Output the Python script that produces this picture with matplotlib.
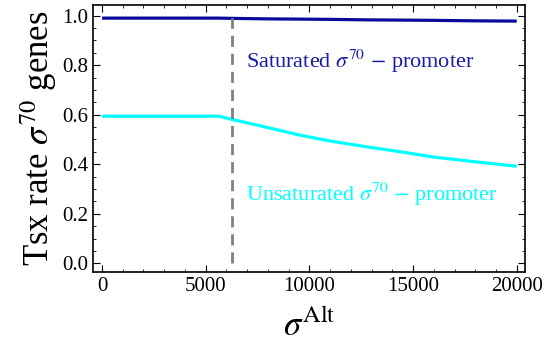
import numpy as np
import matplotlib
matplotlib.use("Agg")
import matplotlib.pyplot as plt
from matplotlib.ticker import MultipleLocator

plt.rcParams["font.family"] = ["Liberation Serif", "DejaVu Serif"]
plt.rcParams["mathtext.fontset"] = "stix"

sigma_alt = [0, 2000, 4000, 5620, 6280, 8000, 9580, 11000, 12800, 14500, 16000, 18000, 20000]
saturated = [0.990, 0.990, 0.990, 0.990, 0.989, 0.987, 0.986, 0.985, 0.983, 0.982, 0.981, 0.979, 0.978]
unsaturated = [0.594, 0.594, 0.594, 0.594, 0.581, 0.548, 0.517, 0.494, 0.470, 0.449, 0.429, 0.410, 0.392]
threshold_x = 6250

fig = plt.figure(figsize=(5.47, 3.49), dpi=100)
ax = fig.add_axes([93 / 547, 1 - 272 / 349, 432 / 547, 267 / 349])

ax.plot(sigma_alt, saturated, color="#0a0a9c", lw=2.3, solid_capstyle="butt")
ax.plot(sigma_alt, unsaturated, color="#00ffff", lw=2.3, solid_capstyle="butt")
ax.plot([threshold_x, threshold_x], [0.0, 0.99], color="#808080", lw=2, ls=(0, (4, 2.5)))

ax.text(6950, 0.815, r"Saturated $\sigma^{70}$ $-$ promoter", color="#1a1aa8",
        fontsize=16, va="center", ha="left")
ax.text(6950, 0.278, r"Unsaturated $\sigma^{70}$ $-$ promoter", color="#00ffff",
        fontsize=16, va="center", ha="left")

ax.set_xlim(-435, 20400)
ax.set_ylim(-0.035, 1.043)
ax.xaxis.set_major_locator(MultipleLocator(5000))
ax.xaxis.set_minor_locator(MultipleLocator(1000))
ax.yaxis.set_major_locator(MultipleLocator(0.2))
ax.yaxis.set_minor_locator(MultipleLocator(0.05))
ax.yaxis.set_major_formatter(matplotlib.ticker.FormatStrFormatter("%.1f"))
ax.tick_params(which="both", direction="in", top=True, right=True, labelsize=15)
ax.tick_params(which="major", length=5, width=0.8)
ax.tick_params(which="minor", length=2.5, width=0.6)
for s in ax.spines.values():
    s.set_linewidth(1.2)

ax.set_ylabel(r"Tsx rate $\sigma^{70}$ genes", fontsize=25, labelpad=2)
ax.set_xlabel(r"$\sigma^{\mathrm{Alt}}$", fontsize=25, labelpad=10)

fig.savefig("out.png", dpi=100)
